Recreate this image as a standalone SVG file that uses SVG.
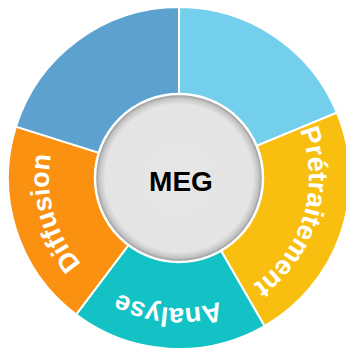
<svg xmlns="http://www.w3.org/2000/svg" xmlns:xlink="http://www.w3.org/1999/xlink" width="346" height="351" viewBox="0 0 346 351">
  <style>
    .seg { stroke: #ffffff; stroke-width: 2; stroke-linejoin: round; }
    .lbl { font-family: "Liberation Sans", Arial, sans-serif; font-weight: bold; font-size: 27px; fill: #ffffff; }
    .center-txt { font-family: "Liberation Sans", Arial, sans-serif; font-weight: bold; font-size: 28px; fill: #000000; }
  </style>
  <defs>
    <path id="ring" d="M179,48 A130,130 0 1 1 179,308 A130,130 0 1 1 179,48"/>
    <radialGradient id="hub" cx="179" cy="178" r="84" gradientUnits="userSpaceOnUse">
      <stop offset="0" stop-color="#e6e6e6"/>
      <stop offset="0.88" stop-color="#e4e4e4"/>
      <stop offset="0.95" stop-color="#c4c4c4"/>
      <stop offset="1" stop-color="#8c8c8c"/>
    </radialGradient>
  </defs>
  <rect width="346" height="351" fill="#ffffff"/>
  <g id="seg-lightblue">
    <path class="seg" fill="#74CFEC" d="M179,178 L179,7 A171,171 0 0 1 336.98,112.56 Z"/>
  </g>
  <g id="seg-pretraitement">
    <path class="seg" fill="#F9BF10" d="M179,178 L336.98,112.56 A171,171 0 0 1 264.5,326.09 Z"/>
    <text class="lbl"><textPath xlink:href="#ring" href="#ring" startOffset="242" text-anchor="middle">Prétraitement</textPath></text>
  </g>
  <g id="seg-analyse">
    <path class="seg" fill="#12C2C5" d="M179,178 L264.5,326.09 A171,171 0 0 1 76.09,314.57 Z"/>
    <text class="lbl"><textPath xlink:href="#ring" href="#ring" startOffset="419" text-anchor="middle">Analyse</textPath></text>
  </g>
  <g id="seg-diffusion">
    <path class="seg" fill="#FA9110" d="M179,178 L76.09,314.57 A171,171 0 0 1 15.91,126.58 Z"/>
    <text class="lbl"><textPath xlink:href="#ring" href="#ring" startOffset="577" text-anchor="middle">Diffusion</textPath></text>
  </g>
  <g id="seg-steelblue">
    <path class="seg" fill="#5CA1CF" d="M179,178 L15.91,126.58 A171,171 0 0 1 179,7 Z"/>
  </g>
  <g id="center-meg">
    <circle cx="179" cy="178" r="84" fill="url(#hub)" stroke="#ffffff" stroke-width="2.5"/>
    <text class="center-txt" x="181" y="191" text-anchor="middle">MEG</text>
  </g>
</svg>
